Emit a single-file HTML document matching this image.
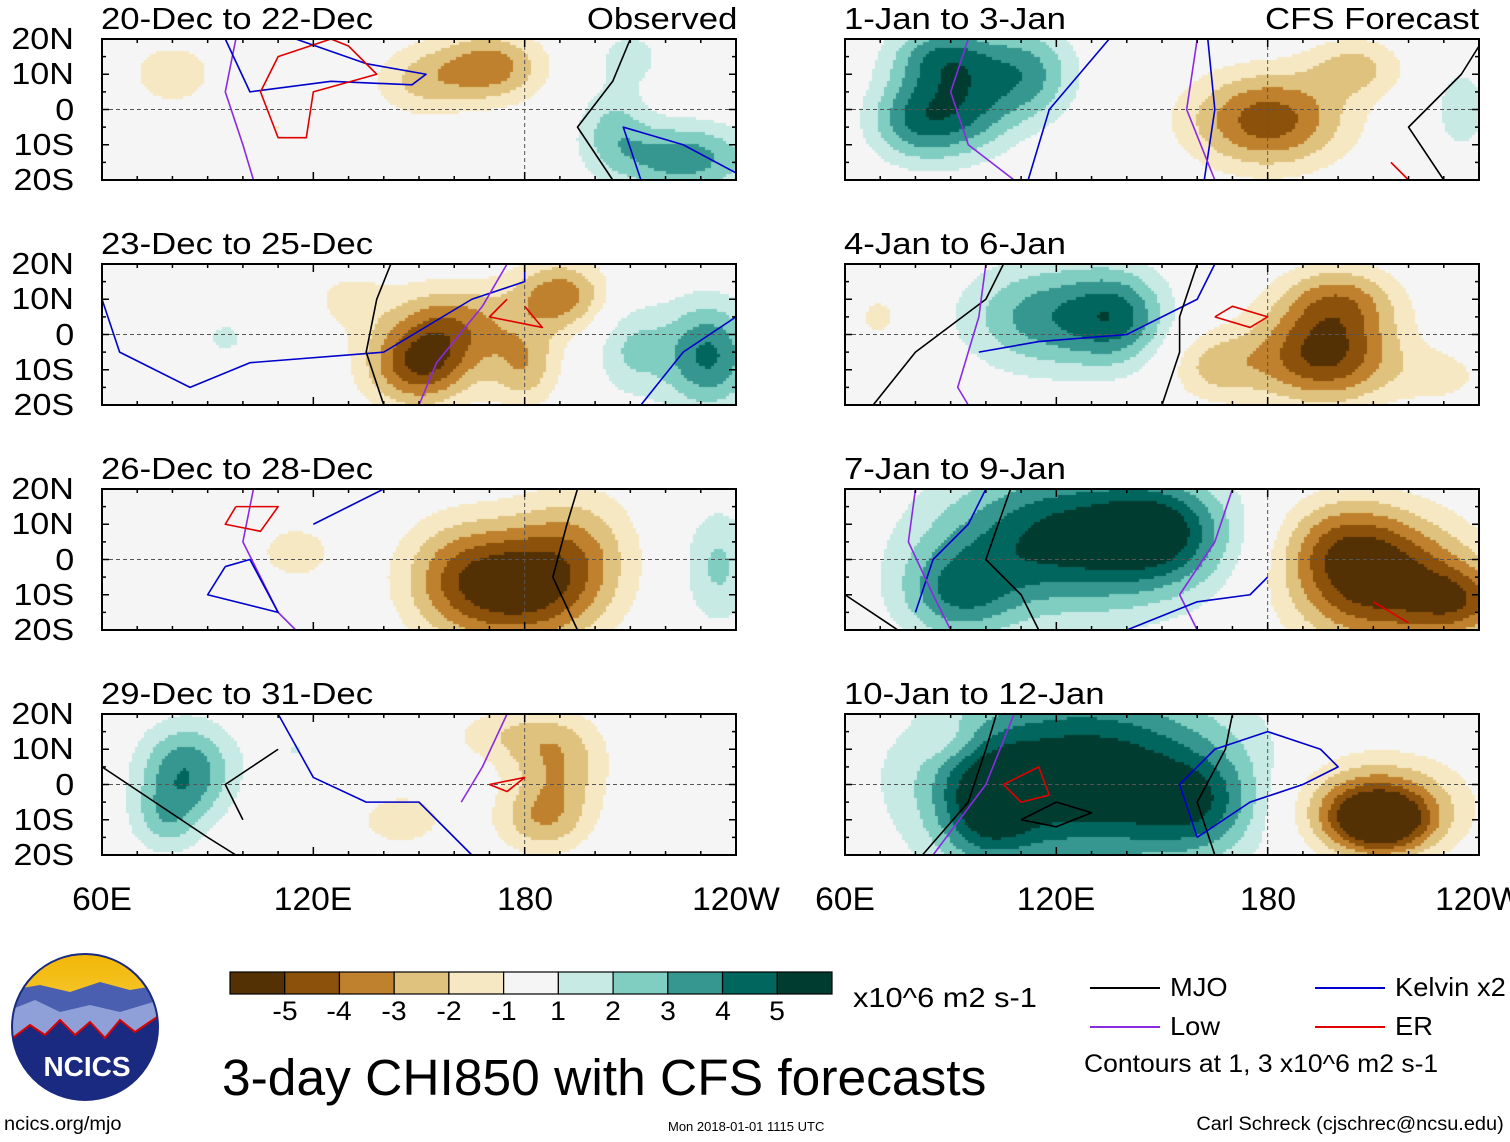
<!DOCTYPE html>
<html><head><meta charset="utf-8">
<style>
body{margin:0;background:#fff;width:1510px;height:1142px;position:relative;overflow:hidden;font-family:"Liberation Sans",Arial,sans-serif;}
.t{position:absolute;white-space:nowrap;color:#000;}
canvas{position:absolute;z-index:1;}
svg{position:absolute;left:0;top:0;z-index:2;}
</style></head><body>
<svg id="ov" width="1510" height="1142"></svg>
<div id="root"></div>
<script>
// Colour levels (BrBG)
const levels=[-5,-4,-3,-2,-1,1,2,3,4,5];
const colors=["#543005","#8c510a","#bf812d","#dfc27d","#f6e8c3","#f5f5f5","#c7eae5","#80cdc1","#35978f","#01665e","#003c30"];
const titles=["20-Dec to 22-Dec","23-Dec to 25-Dec","26-Dec to 28-Dec","29-Dec to 31-Dec","1-Jan to 3-Jan","4-Jan to 6-Jan","7-Jan to 9-Jan","10-Jan to 12-Jan"];
const latTicks=["20N","10N","0","10S","20S"];
const lonTicks=["60E","120E","180","120W"];
// anomaly blobs per panel: [lon(E), lat, amplitude, sigmaLon, sigmaLat]
const blobs0=[[170,12,-3.6,9,6],[150,8,-2,8,6],[80,10,-1.6,8,6],[110,-5,-1,6,6],[225,-14,3.6,12,6],[205,-5,2,6,7],[210,15,1.4,6,5]];
const blobs1=[[150,-9,-4.6,9,7],[160,3,-3.2,10,7],[190,11,-3.6,8,6],[180,-9,-2.6,6,7],[232,-6,4.2,8,9],[210,-4,2,6,8],[95,-1,1.2,5,4],[130,10,-1.2,8,6]];
const blobs2=[[180,-8,-5.2,13,10],[160,-5,-2.5,10,10],[195,5,-2,10,10],[115,2,-1.4,8,6],[235,-2,2.2,6,10],[95,-10,1,3,3]];
const blobs3=[[84,4,3.8,8,8],[78,-10,2,6,6],[190,6,-2.6,8,8],[185,-10,-2.6,8,6],[145,-10,-1.6,8,5],[175,14,-1.6,10,5],[115,10,1,6,5]];
const blobs4=[[88,15,3.6,9,6],[80,-3,3.6,8,7],[112,10,3.2,8,8],[95,0,3,8,8],[180,-3,-4.6,13,8],[205,12,-2.2,8,5],[235,0,1.6,5,8]];
const blobs5=[[118,5,3.6,14,9],[138,5,3,8,8],[196,-6,-5.2,12,8],[200,10,-3,10,6],[165,-9,-2.2,8,6],[70,5,-1.2,6,6],[230,-12,-1.2,8,5]];
const blobs6=[[125,6,5.6,22,12],[92,-10,3.2,10,8],[150,8,3,10,8],[212,-6,-5.6,15,11],[235,-12,-3,8,6],[200,5,-2,10,8]];
const blobs7=[[128,2,6.2,25,15],[100,-6,3.2,8,10],[160,-6,2.5,10,8],[210,-6,-4.2,14,8],[212,-11,-4.6,8,5],[90,12,-1,6,4]];
const allBlobs=[blobs0,blobs4,blobs1,blobs5,blobs2,blobs6,blobs3,blobs7];
// contour lines per panel (chronological): [colour, [[lon,lat],...]]
const lines=[
 [["#8a2be2",[[98,20],[95,5],[100,-10],[103,-20]]],["#0000cc",[[95,20],[102,5],[125,8],[148,7],[152,10],[135,13],[115,20]]],["#e00000",[[125,20],[110,15],[105,5],[110,-8],[118,-8],[120,5],[138,10],[130,18],[125,20]]],["#000",[[205,-20],[195,-5],[205,8],[210,20]]],["#0000cc",[[213,-20],[208,-5],[225,-10],[240,-18]]]],
 [["#0000cc",[[60,10],[65,-5],[85,-15],[102,-8],[140,-5],[165,10],[180,15],[180,20]]],["#8a2be2",[[175,20],[168,8],[155,-8],[150,-20]]],["#000",[[140,-20],[135,-5],[138,10],[142,20]]],["#0000cc",[[213,-20],[225,-5],[240,5]]],["#e00000",[[175,10],[170,5],[185,2],[180,8]]]],
 [["#8a2be2",[[103,20],[100,5],[110,-15],[115,-20]]],["#0000cc",[[95,-2],[90,-10],[110,-15],[102,0],[95,-2]]],["#e00000",[[98,15],[95,10],[105,8],[110,15],[98,15]]],["#000",[[195,-20],[188,-5],[192,10],[195,20]]],["#0000cc",[[120,10],[130,15],[140,20]]]],
 [["#000",[[60,5],[75,-5],[90,-15],[98,-20]]],["#0000cc",[[110,20],[120,2],[135,-5],[150,-5],[165,-20]]],["#8a2be2",[[175,20],[168,5],[162,-5]]],["#000",[[100,-10],[95,0],[110,10]]],["#e00000",[[170,0],[180,2],[175,-2],[170,0]]]],
 [["#8a2be2",[[95,20],[90,5],[95,-10],[108,-20]]],["#0000cc",[[112,-20],[118,0],[135,20],[163,20],[165,0],[162,-20]]],["#8a2be2",[[160,20],[157,0],[165,-20]]],["#000",[[230,-20],[220,-5],[225,0],[235,10],[240,18]]],["#e00000",[[215,-15],[220,-20]]]],
 [["#000",[[68,-20],[80,-5],[100,10],[105,20]]],["#8a2be2",[[100,20],[98,5],[92,-15],[95,-20]]],["#0000cc",[[98,-5],[115,-2],[140,0],[160,10],[165,20]]],["#000",[[150,-20],[155,-5],[155,5],[160,20]]],["#e00000",[[165,5],[175,2],[180,5],[170,8],[165,5]]]],
 [["#000",[[60,-10],[75,-20]]],["#0000cc",[[80,-15],[85,0],[95,10],[100,20]]],["#8a2be2",[[80,20],[78,5],[85,-10],[90,-20]]],["#000",[[107,20],[100,0],[110,-10],[115,-20]]],["#8a2be2",[[170,20],[165,5],[155,-10],[160,-20]]],["#0000cc",[[140,-20],[160,-12],[175,-10],[180,-5]]],["#e00000",[[210,-12],[220,-18]]]],
 [["#000",[[82,-20],[95,-5],[100,10],[103,20]]],["#8a2be2",[[85,-20],[100,0],[108,20]]],["#e00000",[[105,0],[110,-5],[118,-3],[115,5],[105,0]]],["#000",[[110,-10],[120,-12],[130,-8],[120,-5],[110,-10]]],["#000",[[165,-20],[160,-5],[168,10],[170,20]]],["#0000cc",[[160,-15],[155,0],[165,10],[180,15],[195,10],[200,5],[190,0],[175,-5],[160,-15]]]]
];
const panelX=[102,845],panelY=[39,264,489,714],PW=634,PH=141;
const xOf=(x0,lon)=>x0+(lon-60)*PW/180;
const yOf=(y0,lat)=>y0+(20-lat)*PH/40;
function col(v){let i=0;while(i<levels.length&&v>=levels[i])i++;return colors[i];}
const root=document.getElementById('root');
const ov=document.getElementById('ov');
const NS="http://www.w3.org/2000/svg";
function txt(s,x,y,size,name,anchor,sx){sx=sx||1;const d=document.createElement('div');d.className='t';d.textContent=s;d.style.left=x+'px';d.style.top=y+'px';d.style.fontSize=size+'px';
 d.style.transformOrigin='left top';d.style.transform='scaleX('+sx+')';
 if(anchor==='r'){d.style.left='auto';d.style.right=(1510-x)+'px';d.style.transformOrigin='right top';}
 if(anchor==='c'){d.style.transform='translateX(-50%) scaleX('+sx+')';d.style.transformOrigin='center top';}
 
 
 root.appendChild(d);return d;}
for(let p=0;p<8;p++){
 const c=p%2, r=Math.floor(p/2);
 const k=c*4+r;
 const x0=panelX[c],y0=panelY[r];
 const cv=document.createElement('canvas');cv.width=PW;cv.height=PH;cv.style.left=x0+'px';cv.style.top=y0+'px';
 
 
 root.appendChild(cv);
 const ctx=cv.getContext('2d');const B=allBlobs[p];const s=3;
 for(let py=0;py<PH;py+=s)for(let px=0;px<PW;px+=s){
  const lon=60+(px+s/2)*180/PW,lat=20-(py+s/2)*40/PH;let v=0;
  for(const b of B){const dx=(lon-b[0])/(b[3]*1.2),dy=(lat-b[1])/(b[4]*1.2);v+=b[2]*Math.exp(-0.5*(dx*dx+dy*dy));}
  ctx.fillStyle=col(v);ctx.fillRect(px,py,s,s);}
 txt(titles[k],x0-1,y0-38,31,'panel-title-'+(k+1),null,1.12);
 const g=document.createElementNS(NS,'g');ov.appendChild(g);
 let l=document.createElementNS(NS,'line');l.setAttribute('x1',x0);l.setAttribute('x2',x0+PW);l.setAttribute('y1',yOf(y0,0));l.setAttribute('y2',yOf(y0,0));l.setAttribute('stroke','#555');l.setAttribute('stroke-dasharray','4,3');g.appendChild(l);
 l=document.createElementNS(NS,'line');l.setAttribute('x1',xOf(x0,180));l.setAttribute('x2',xOf(x0,180));l.setAttribute('y1',y0);l.setAttribute('y2',y0+PH);l.setAttribute('stroke','#555');l.setAttribute('stroke-dasharray','4,3');g.appendChild(l);
 const pl=lines[k]||[];
 for(const [cc,pts] of pl){const q=document.createElementNS(NS,'polyline');q.setAttribute('points',pts.map(pt=>xOf(x0,pt[0])+','+yOf(y0,pt[1])).join(' '));q.setAttribute('fill','none');q.setAttribute('stroke',cc);q.setAttribute('stroke-width','1.6');q.setAttribute('stroke-linejoin','round');
  
  
  g.appendChild(q);}
 const rect=document.createElementNS(NS,'rect');rect.setAttribute('x',x0);rect.setAttribute('y',y0);rect.setAttribute('width',PW);rect.setAttribute('height',PH);rect.setAttribute('fill','none');rect.setAttribute('stroke','#000');rect.setAttribute('stroke-width','2');g.appendChild(rect);
 for(let lon=60;lon<=240;lon+=10){const x=xOf(x0,lon),len=(lon%60===0)?8:4;
  for(const [ya,yb] of [[y0,y0+len],[y0+PH,y0+PH-len]]){const t=document.createElementNS(NS,'line');t.setAttribute('x1',x);t.setAttribute('x2',x);t.setAttribute('y1',ya);t.setAttribute('y2',yb);t.setAttribute('stroke','#000');t.setAttribute('stroke-width','1.5');g.appendChild(t);}}
 for(let lat=-20;lat<=20;lat+=5){const y=yOf(y0,lat),len=(lat%10===0)?7:4;
  for(const [xa,xb] of [[x0,x0+len],[x0+PW,x0+PW-len]]){const t=document.createElementNS(NS,'line');t.setAttribute('x1',xa);t.setAttribute('x2',xb);t.setAttribute('y1',y);t.setAttribute('y2',y);t.setAttribute('stroke','#000');t.setAttribute('stroke-width','1.5');g.appendChild(t);}}
 if(c===0){latTicks.forEach((s2,i)=>{txt(s2,74,y0+i*PH/4-18,31,'lat-label','r',1.1);});}
 if(r===3){lonTicks.forEach((s2,i)=>{txt(s2,x0+i*PW/3,881,32,'lon-label','c',1.05);});}
}
txt("Observed",737,1,31,'observed-label','r',1.12);
txt("CFS Forecast",1479,1,31,'forecast-label','r',1.12);
const cb=document.createElementNS(NS,'g');ov.appendChild(cb);
const cbx=230,cbw=602/11;
colors.forEach((cc,i)=>{const r2=document.createElementNS(NS,'rect');r2.setAttribute('x',cbx+i*cbw);r2.setAttribute('y',972);r2.setAttribute('width',cbw);r2.setAttribute('height',22);r2.setAttribute('fill',cc);r2.setAttribute('stroke','#000');r2.setAttribute('stroke-width','1.2');cb.appendChild(r2);});
levels.forEach((v,i)=>{txt(String(v),cbx+(i+1)*cbw,996,27,'colorbar-tick','c',1.05);});
txt("x10^6 m2 s-1",853,982,28,'colorbar-units',null,1.1);
const leg=[["MJO","#000",1090,988],["Low","#8a2be2",1090,1027],["Kelvin x2","#0000cc",1315,988],["ER","#e00000",1315,1027]];
leg.forEach(([n,cc,x,y])=>{const l=document.createElementNS(NS,'line');l.setAttribute('x1',x);l.setAttribute('x2',x+70);l.setAttribute('y1',y);l.setAttribute('y2',y);l.setAttribute('stroke',cc);l.setAttribute('stroke-width','2');
 
 
 ov.appendChild(l);txt(n,x+80,y-16,26,'legend-entry',null,1.05);});
txt("Contours at 1, 3 x10^6 m2 s-1",1084,1050,25,'contour-note',null,1.06);
txt("3-day CHI850 with CFS forecasts",222,1048,51,'main-title',null,1.01);
txt("ncics.org/mjo",4,1114,19,'site-url',null,1.05);
txt("Mon 2018-01-01 1115 UTC",668,1119,13,'timestamp');
txt("Carl Schreck (cjschrec@ncsu.edu)",1504,1114,19,'author','r',1.05);
ov.insertAdjacentHTML('beforeend',`<g>
<defs><clipPath id="lc"><circle cx="85" cy="1027" r="73"/></clipPath><linearGradient id="sky" x1="0" y1="0" x2="0" y2="1"><stop offset="0" stop-color="#f2b705"/><stop offset="1" stop-color="#fde27a"/></linearGradient></defs>
<g clip-path="url(#lc)"><rect x="10" y="952" width="150" height="150" fill="url(#sky)"/>
<path d="M10 990 L40 985 L70 992 L100 982 L130 990 L160 985 L160 1102 L10 1102Z" fill="#4a5fb0"/>
<path d="M10 1010 L35 1000 L60 1012 L90 1005 L120 1012 L160 1000 L160 1102 L10 1102Z" fill="#8fa0d8"/>
<path d="M10 1040 L30 1025 L45 1035 L60 1020 L75 1035 L90 1022 L105 1038 L120 1020 L135 1032 L160 1015 L160 1102 L10 1102Z" fill="#1a2a80" stroke="#d00" stroke-width="2"/></g>
<circle cx="85" cy="1027" r="73" fill="none" stroke="#1a2a80" stroke-width="2"/>
<text x="87" y="1076" font-family="Liberation Sans" font-weight="bold" font-size="28" fill="#fff" text-anchor="middle">NCICS</text></g>`);
</script>
</body></html>
